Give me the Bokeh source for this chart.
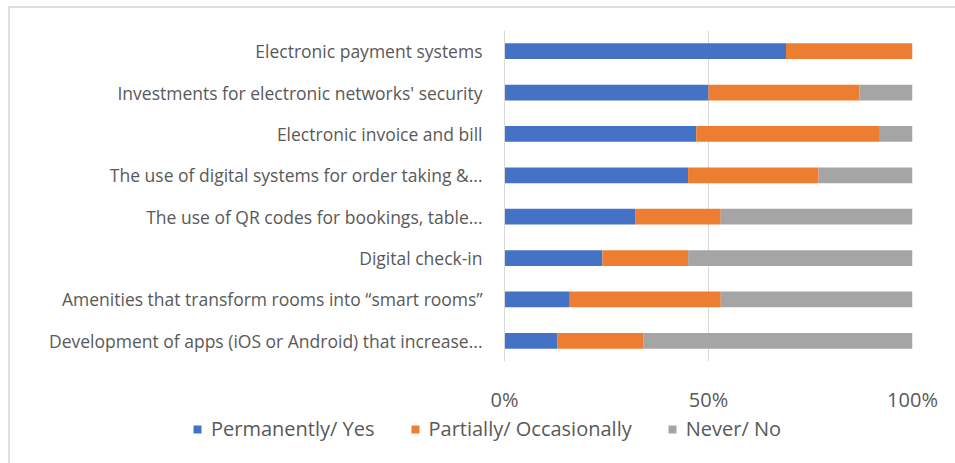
from bokeh.plotting import figure
from bokeh.layouts import column
from bokeh.models import FactorRange, Legend, LegendItem, FixedTicker, CustomJSTickFormatter, Range1d
from bokeh.embed import file_html
from bokeh.resources import INLINE

categories = [
    "Electronic payment systems",
    "Investments for electronic networks' security",
    "Electronic invoice and bill",
    "The use of digital systems for order taking &...",
    "The use of QR codes for bookings, table...",
    "Digital check-in",
    "Amenities that transform rooms into \u201csmart rooms\u201d",
    "Development of apps (iOS or Android) that increase...",
]
permanently_yes = [69, 50, 47, 45, 32, 24, 16, 13]
partially_occasionally = [31, 37, 45, 32, 21, 21, 37, 21]
never_no = [0, 13, 8, 23, 47, 55, 47, 66]
series_names = ["Permanently/ Yes", "Partially/ Occasionally", "Never/ No"]
x_ticks = [0, 50, 100]

colors = ["#4472C4", "#ED7D31", "#A5A5A5"]
FONT = "Open Sans"
TXT = "#595959"

# layout in pixels (figure coordinates)
W = 945
H_MAIN, H_LEG = 407, 48
FRAME_LEFT, FRAME_RIGHT = 20, 902
ZERO_PX = 494
frac = (ZERO_PX - FRAME_LEFT) / (FRAME_RIGHT - FRAME_LEFT)
x_start = -frac / (1 - frac)

cats_rev = categories[::-1]
data = {
    "cat": cats_rev,
    "yes": [v / 100 for v in permanently_yes[::-1]],
    "part": [v / 100 for v in partially_occasionally[::-1]],
    "never": [v / 100 for v in never_no[::-1]],
}

p = figure(
    width=W, height=H_MAIN,
    y_range=FactorRange(*cats_rev, range_padding=0),
    x_range=Range1d(x_start, 1),
    output_backend="svg", toolbar_location=None,
    min_border_left=FRAME_LEFT, min_border_right=W - FRAME_RIGHT,
    min_border_top=22, min_border_bottom=48,
)

p.hbar_stack(["yes", "part", "never"], y="cat", height=0.38,
             color=colors, source=data, line_width=0)

p.yaxis.fixed_location = 0
p.yaxis.axis_line_color = "#D9D9D9"
p.yaxis.major_tick_line_color = None
p.yaxis.minor_tick_line_color = None
p.yaxis.major_label_text_font = FONT
p.yaxis.major_label_text_font_size = "17.5px"
p.yaxis.major_label_text_color = TXT
p.yaxis.major_label_standoff = 16

p.outline_line_color = None
p.ygrid.grid_line_color = None
p.xgrid.grid_line_color = "#D9D9D9"
p.xgrid.ticker = FixedTicker(ticks=[v / 100 for v in x_ticks])
p.xaxis.ticker = FixedTicker(ticks=[v / 100 for v in x_ticks])
p.xaxis.formatter = CustomJSTickFormatter(code="return Math.round(tick*100) + '%';")
p.xaxis.axis_line_color = None
p.xaxis.major_tick_line_color = None
p.xaxis.minor_tick_line_color = None
p.xaxis.major_label_text_font = FONT
p.xaxis.major_label_text_font_size = "20px"
p.xaxis.major_label_text_color = TXT
p.xaxis.major_label_standoff = 18

# legend strip below the chart (same frame geometry); zero-size proxy glyphs
lg = figure(width=W, height=H_LEG, x_range=(0, 1), y_range=(0, 1),
            output_backend="svg", toolbar_location=None,
            min_border_left=FRAME_LEFT, min_border_right=W - FRAME_RIGHT,
            min_border_top=0, min_border_bottom=0)
lg.axis.visible = False
lg.grid.visible = False
lg.outline_line_color = None
proxies = [lg.hbar(y="y", left="l", right="r", height=0, fill_color=c, line_color=c,
                   line_width=0, source={"y": [0], "l": [0], "r": [0]}) for c in colors]
legend = Legend(
    items=[LegendItem(label=n, renderers=[r]) for n, r in zip(series_names, proxies)],
    orientation="horizontal",
    location=(162, 21),
    glyph_width=10, glyph_height=10,
    label_text_font=FONT, label_text_font_size="20px", label_text_color=TXT,
    spacing=35, label_standoff=9,
    border_line_color=None, background_fill_alpha=0,
    padding=0, margin=0,
)
lg.add_layout(legend, "center")

layout = column(p, lg, spacing=0,
                styles={"margin-left": "8px", "margin-top": "6px",
                        "border-top": "2px solid #E0E0E0", "border-left": "2px solid #E0E0E0"})

open("out.html", "w").write(file_html(layout, INLINE))
